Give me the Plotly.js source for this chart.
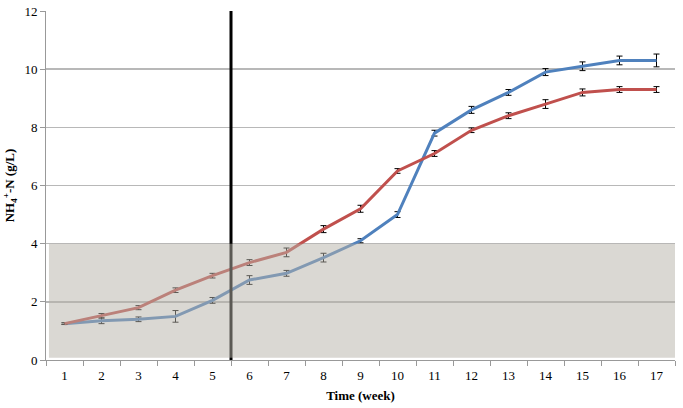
<!DOCTYPE html>
<html>
<head>
<meta charset="utf-8">
<script src="https://cdn.plot.ly/plotly-3.0.1.min.js"></script>
<style>
  html, body { margin: 0; padding: 0; background: #fff; }
  #nh4fig { width: 683px; height: 408px; }
</style>
</head>
<body>
<div id="nh4fig"></div>
<script>
// weeks on the x axis
var weeks = ['1','2','3','4','5','6','7','8','9','10','11','12','13','14','15','16','17'];

// blue series
var blue_mean = [1.25, 1.35, 1.4, 1.5, 2.05, 2.75, 2.98, 3.52, 4.1, 5.0, 7.8, 8.6, 9.2, 9.9, 10.1, 10.3, 10.3];
var blue_err  = [0.03, 0.1, 0.08, 0.2, 0.1, 0.15, 0.1, 0.15, 0.07, 0.1, 0.1, 0.12, 0.1, 0.12, 0.15, 0.15, 0.22];

// red series
var red_mean = [1.25, 1.52, 1.8, 2.4, 2.9, 3.35, 3.7, 4.5, 5.2, 6.5, 7.1, 7.9, 8.4, 8.8, 9.2, 9.3, 9.3];
var red_err  = [0.03, 0.08, 0.07, 0.08, 0.08, 0.1, 0.15, 0.12, 0.12, 0.08, 0.1, 0.08, 0.1, 0.15, 0.12, 0.1, 0.1];

var yticks = [0, 2, 4, 6, 8, 10, 12];

var errStyle = function (arr) {
  return { type: 'data', array: arr, visible: true, color: '#000', thickness: 1, width: 3 };
};

var trace_blue = {
  x: weeks,
  y: blue_mean,
  error_y: errStyle(blue_err),
  mode: 'lines',
  line: { color: '#4f81bd', width: 3 },
  type: 'scatter',
  name: 'blue'
};

var trace_red = {
  x: weeks,
  y: red_mean,
  error_y: errStyle(red_err),
  mode: 'lines',
  line: { color: '#c0504d', width: 3 },
  type: 'scatter',
  name: 'red'
};

var data = [trace_blue, trace_red];

var layout = {
  width: 683,
  height: 408,
  margin: { l: 46, r: 8, t: 11, b: 48 },
  paper_bgcolor: '#fff',
  plot_bgcolor: '#fff',
  showlegend: false,
  font: { family: '"Liberation Serif"', size: 13, color: '#000' },
  xaxis: {
    type: 'category',
    tickson: 'boundaries',
    ticks: 'outside',
    ticklen: 5,
    tickcolor: '#999',
    ticklabelstandoff: 3,
    showgrid: false,
    showline: true,
    linecolor: '#999',
    linewidth: 1,
    zeroline: false,
    range: [-0.5, 16.5],
    title: { text: '<b>Time (week)</b>', font: { size: 13 }, standoff: 9 }
  },
  yaxis: {
    range: [0, 12],
    tickvals: yticks,
    ticks: 'outside',
    ticklen: 5,
    tickcolor: '#999',
    showgrid: true,
    gridcolor: '#b8b8b8',
    gridwidth: 1.5,
    showline: true,
    linecolor: '#999',
    linewidth: 1,
    zeroline: false,
    title: { text: '<b>NH<sub>4</sub><sup>+</sup>-N (g/L)</b>', font: { size: 13 }, standoff: 6 }
  },
  shapes: [
    // vertical marker between week 5 and 6
    { type: 'line', layer: 'above', xref: 'x', yref: 'y', x0: 4.5, x1: 4.5, y0: -0.06, y1: 12,
      line: { color: '#000', width: 3 } },
    // shaded band 0-4, drawn over the lines
    { type: 'rect', layer: 'above', xref: 'x', yref: 'y', x0: -0.42, x1: 16.5, y0: 0.08, y1: 4,
      fillcolor: 'rgba(181,178,168,0.5)', line: { width: 0 } }
  ]
};

Plotly.newPlot('nh4fig', data, layout, { displayModeBar: false, staticPlot: true });
</script>
</body>
</html>
